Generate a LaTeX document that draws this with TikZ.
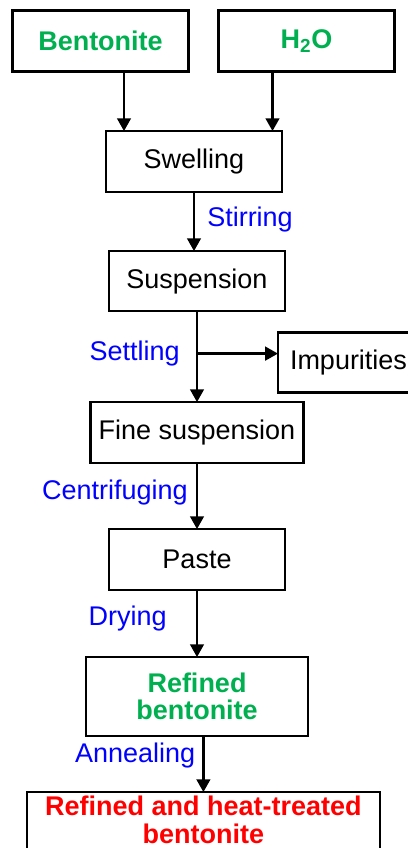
\documentclass[tikz,border=0pt]{standalone}
\usepackage{fontspec}
\setmainfont{Liberation Sans}
\usetikzlibrary{arrows.meta, positioning}
\definecolor{ClayGreen}{HTML}{00B050}
\definecolor{StepBlue}{HTML}{0000FF}
\definecolor{HeatRed}{HTML}{FF0000}

\begin{document}
\begin{tikzpicture}[
			node distance=1.5cm,
			line width=1.8pt,
			box/.style={rectangle, draw, outer sep=0pt, minimum height=1.525cm, minimum width=4.4cm, align=center, inner sep=0.2cm, font=\fontsize{19.2}{19.5}\selectfont},
			feed/.style={box, text=ClayGreen, font=\fontsize{19.2}{19.5}\selectfont\bfseries},
			lbl/.style={text=StepBlue, inner sep=0pt, font=\fontsize{19.2}{19.5}\selectfont},
			arr/.style={-{Triangle[width=0.34cm, length=0.32cm]}},
			]
			\useasboundingbox (0,0) rectangle (10.2,-21.2);
			\node (bent) [feed] at (2.5125,-1.025) {Bentonite};
			\node (water) [feed, right=0.75cm of bent] {H\textsubscript{2}O};
			\node (swell) [box] at (4.85,-4.04) {Swelling};
			\node (susp) [box, below=1.475cm of swell, xshift=0.075cm, minimum height=1.5cm] {Suspension};
			\node (fine) [box, below=2.275cm of susp, minimum width=5.275cm] {Fine suspension};
			\node (paste) [box, below=1.65cm of fine] {Paste};
			\node (refined) [feed, below=1.675cm of paste, minimum width=5.55cm, minimum height=1.975cm] {Refined\\bentonite};
			\node (final) [box, below=1.4cm of refined, xshift=0.16cm, minimum width=8.825cm, minimum height=1.52cm, inner ysep=0.02cm, text=HeatRed, font=\fontsize{19.2}{19.8}\selectfont\bfseries] {Refined and heat-treated\\bentonite\rule[-0.14cm]{0pt}{0pt}}; % runs past the lower edge
			
			\draw[arr] ([xshift=0.5875cm]bent.south) -- ([xshift=0.5875cm]bent.south |- swell.north);
			\draw[arr] ([xshift=-0.85cm]water.south) -- ([xshift=-0.85cm]water.south |- swell.north);
			\draw[arr] (swell.south) -- (swell.south |- susp.north) node[lbl, pos=0.46, right=0.3cm] (stir) {Stirring};
			\draw[arr] (susp.south) -- (fine.north) coordinate[pos=0.467] (split);
			\node (settle) [lbl, left=0.4cm of split] {Settling};
			\node (imp) [box, minimum width=0cm, inner xsep=0.3cm, minimum height=1.5cm, right=2.025cm of split, yshift=-0.225cm] {Impurities}; % side branch
			\draw[arr] (split) -- (split -| imp.west);
			\draw[arr] (fine.south) -- (fine.south |- paste.north) node[lbl, pos=0.44, left=0.2cm] (centri) {Centrifuging};
			\draw[arr] (paste.south) -- (paste.south |- refined.north) node[lbl, pos=0.42, left=0.725cm] (dry) {Drying};
			\draw[arr] (final.north |- refined.south) -- (final.north) node[lbl, pos=0.34, left=0.175cm] (anneal) {Annealing};
		\end{tikzpicture}
\end{document}
